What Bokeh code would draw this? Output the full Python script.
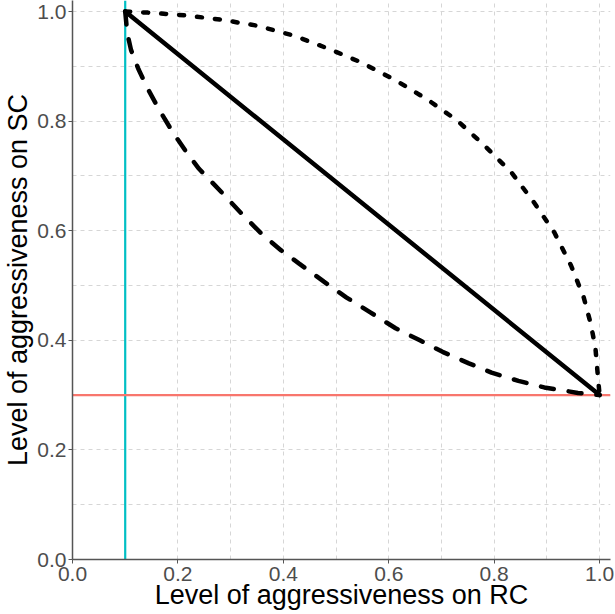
from bokeh.plotting import figure
from bokeh.models import Range1d, FixedTicker, Span, PrintfTickFormatter
from bokeh.embed import file_html
from bokeh.resources import INLINE

# ---------------- data ----------------
x_label = "Level of aggressiveness on RC"
y_label = "Level of aggressiveness on SC"
tick_values = [0.0, 0.2, 0.4, 0.6, 0.8, 1.0]
tick_labels = ["0.0", "0.2", "0.4", "0.6", "0.8", "1.0"]
minor_values = [0.1, 0.3, 0.5, 0.7, 0.9]

rc_threshold = 0.1   # vertical line
sc_threshold = 0.3   # horizontal line

linear_x = [0.1, 1.0]
linear_y = [1.0, 0.3]

convex_x = [0.100, 0.104, 0.111, 0.125, 0.145, 0.165, 0.190, 0.215, 0.240,
            0.283, 0.321, 0.358, 0.396, 0.430, 0.477, 0.520, 0.565, 0.613,
            0.659, 0.702, 0.752, 0.795, 0.846, 0.895, 0.959, 1.000]
convex_y = [1.000, 0.960, 0.930, 0.895, 0.855, 0.820, 0.780, 0.745, 0.713,
            0.670, 0.631, 0.595, 0.564, 0.540, 0.507, 0.478, 0.451, 0.422,
            0.400, 0.379, 0.358, 0.341, 0.326, 0.314, 0.304, 0.300]

concave_x = [0.100, 0.143, 0.214, 0.283, 0.351, 0.420, 0.486, 0.548, 0.614,
             0.674, 0.730, 0.782, 0.833, 0.876, 0.914, 0.946, 0.970, 0.983,
             0.992, 0.998, 1.000]
concave_y = [1.000, 0.998, 0.993, 0.985, 0.974, 0.956, 0.932, 0.907, 0.874,
             0.839, 0.801, 0.755, 0.706, 0.651, 0.597, 0.536, 0.478, 0.431,
             0.387, 0.321, 0.300]

FONT = "Liberation Sans"

# ---------------- figure ----------------
p = figure(width=614, height=613,
           x_range=Range1d(0, 1.0207), y_range=Range1d(0, 1.0201),
           output_backend="svg", toolbar_location=None,
           min_border_left=66, min_border_right=4,
           min_border_top=0, min_border_bottom=54,
           background_fill_color="white", border_fill_color="white",
           outline_line_color=None)

for ax, lab in ((p.xaxis[0], x_label), (p.yaxis[0], y_label)):
    ax.ticker = FixedTicker(ticks=tick_values, minor_ticks=minor_values)
    ax.formatter = PrintfTickFormatter(format="%.1f")
    ax.major_label_overrides = dict(zip(tick_values, tick_labels))
    ax.major_label_text_font = FONT
    ax.major_label_text_font_size = "21px"
    ax.major_label_text_color = "#4D4D4D"
    ax.axis_label = lab
    ax.axis_label_text_font = FONT
    ax.axis_label_text_font_size = "27px"
    ax.axis_label_text_font_style = "normal"
    ax.axis_label_text_color = "black"
    ax.axis_line_color = "#555555"
    ax.axis_line_width = 1.5
    ax.major_tick_line_color = "#555555"
    ax.major_tick_line_width = 1
    ax.major_tick_out = 4
    ax.major_tick_in = 0
    ax.minor_tick_line_color = None
    ax.minor_tick_out = 0
    ax.minor_tick_in = 0

p.xaxis.major_label_standoff = 3
p.xaxis.axis_label_standoff = -4
p.yaxis.major_label_standoff = 2
p.yaxis.axis_label_standoff = 1

for g in (p.xgrid[0], p.ygrid[0]):
    g.grid_line_color = "#D6D6D6"
    g.grid_line_width = 1
    g.grid_line_dash = "4 4"
    g.minor_grid_line_color = "#D6D6D6"
    g.minor_grid_line_width = 1
    g.minor_grid_line_dash = "4 4"

vline = Span(location=rc_threshold, dimension="height",
             line_color="#00BFC4", line_width=2.2, level="underlay")
hline = Span(location=sc_threshold, dimension="width",
             line_color="#F8766D", line_width=2.2, level="underlay")
p.add_layout(vline)
p.add_layout(hline)

p.line(linear_x, linear_y, line_color="black", line_width=4.5, line_cap="round")
p.line(convex_x, convex_y, line_color="black", line_width=4.5,
       line_cap="round", line_dash="13 15")
p.line(concave_x, concave_y, line_color="black", line_width=4.5,
       line_cap="round", line_dash="5 13")

open("out.html", "w").write(file_html(p, INLINE))
